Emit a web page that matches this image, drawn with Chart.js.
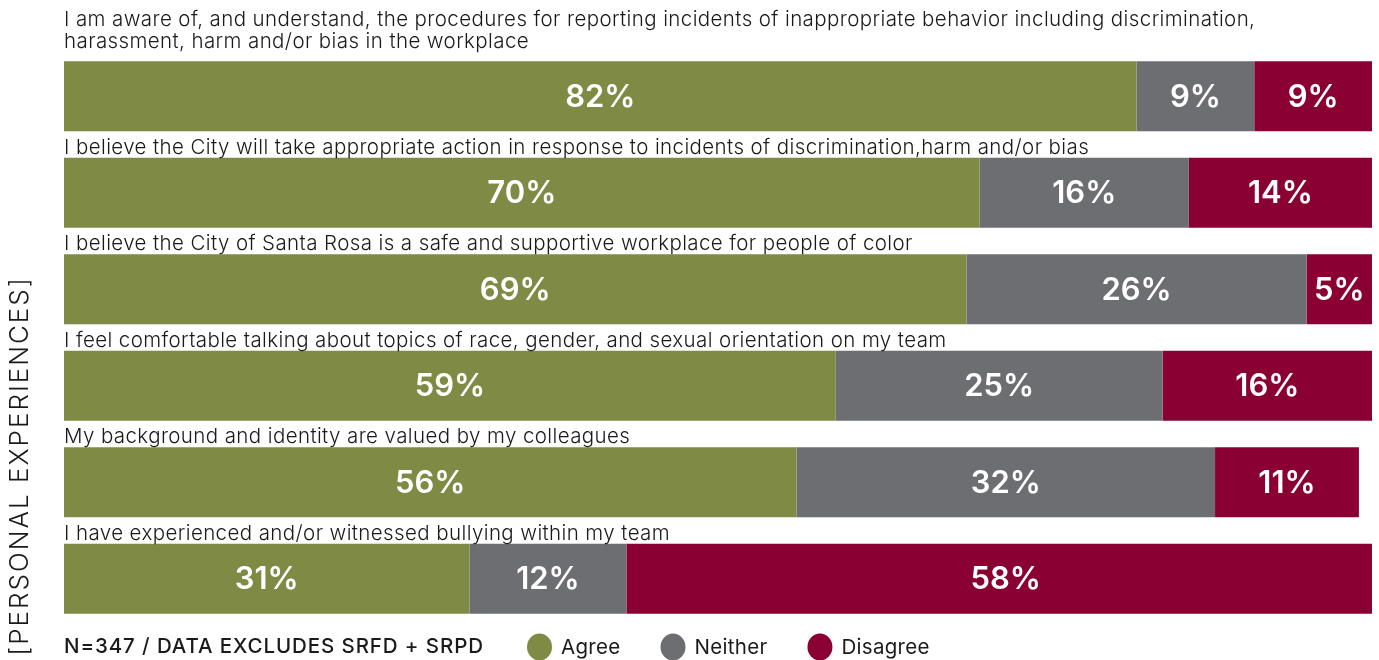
<!DOCTYPE html>
<html>
<head>
<meta charset="utf-8">
<script src="https://cdn.jsdelivr.net/npm/chart.js@4.4.1/dist/chart.umd.min.js"></script>
<style>
  html, body { margin: 0; padding: 0; background: #fff; }
</style>
</head>
<body>
<canvas id="barChart" width="1379" height="660"></canvas>
<script>
// survey statements, one per bar (first one wraps onto two lines)
const questions = [
    ['I am aware of, and understand, the procedures for reporting incidents of inappropriate behavior including discrimination,',
     'harassment, harm and/or bias in the workplace'],
    ['I believe the City will take appropriate action in response to incidents of discrimination,harm and/or bias'],
    ['I believe the City of Santa Rosa is a safe and supportive workplace for people of color'],
    ['I feel comfortable talking about topics of race, gender, and sexual orientation on my team'],
    ['My background and identity are valued by my colleagues'],
    ['I have experienced and/or witnessed bullying within my team']
];
const agree    = [82, 70, 69, 59, 56, 31];
const neither  = [9, 16, 26, 25, 32, 12];
const disagree = [9, 14, 5, 16, 11, 58];
const seriesNames = ['Agree', 'Neither', 'Disagree'];
const colors = ['#7f8a45', '#6d6e72', '#8b0033'];
const sideTitle = '[PERSONAL EXPERIENCES]';
const footNote = 'N=347 / DATA EXCLUDES SRFD + SRPD';

const textFont = 'Inter, "Open Sans", sans-serif';

// white % labels in the middle of each segment
const valueLabels = {
    id: 'valueLabels',
    afterDatasetsDraw(chart) {
        const ctx = chart.ctx;
        ctx.save();
        ctx.fillStyle = '#fff';
        ctx.font = '600 31px ' + textFont;
        ctx.textAlign = 'center';
        ctx.textBaseline = 'middle';
        chart.data.datasets.forEach((ds, d) => {
            chart.getDatasetMeta(d).data.forEach((bar, i) => {
                const c = bar.getCenterPoint();
                ctx.fillText(ds.data[i] + '%', c.x, c.y + 1);
            });
        });
        ctx.restore();
    }
};

// statement text above each bar, side title, footnote and legend
const decorations = {
    id: 'decorations',
    afterDraw(chart) {
        const ctx = chart.ctx;
        const area = chart.chartArea;
        const bars = chart.getDatasetMeta(0).data;
        ctx.save();
        ctx.fillStyle = '#1a1a1a';
        ctx.font = '300 20.5px ' + textFont;
        ctx.letterSpacing = '0.4px';
        ctx.textAlign = 'left';
        ctx.textBaseline = 'alphabetic';
        chart.data.labels.forEach((lines, i) => {
            const top = bars[i].y - bars[i].height / 2;
            let base = top - 4 - (lines.length - 1) * 9;
            for (let k = lines.length - 1; k >= 0; k--) {
                ctx.fillText(lines[k], area.left, base);
                base -= 22;
            }
        });

        // rotated section title on the left
        ctx.save();
        ctx.translate(20, 466);
        ctx.rotate(-Math.PI / 2);
        ctx.font = '300 26px ' + textFont;
        ctx.letterSpacing = '2px';
        ctx.textAlign = 'center';
        ctx.textBaseline = 'middle';
        ctx.fillText(sideTitle, 0, 0);
        ctx.restore();

        // footnote
        const rowY = 647;
        ctx.font = '500 20.5px ' + textFont;
        ctx.letterSpacing = '0.9px';
        ctx.textBaseline = 'middle';
        ctx.fillText(footNote, area.left, rowY);

        // legend
        ctx.font = '400 20.5px ' + textFont;
        ctx.letterSpacing = '0.3px';
        let x = 527;
        chart.data.datasets.forEach(ds => {
            ctx.fillStyle = ds.backgroundColor;
            ctx.beginPath();
            ctx.ellipse(x + 12.5, rowY, 12.5, 13.5, 0, 0, Math.PI * 2);
            ctx.fill();
            ctx.fillStyle = '#1a1a1a';
            ctx.fillText(ds.label, x + 34, rowY + 1);
            x += 34 + ctx.measureText(ds.label).width + 40;
        });
        ctx.restore();
    }
};

new Chart(document.getElementById('barChart'), {
    type: 'bar',
    data: {
        labels: questions,
        datasets: [
            { label: seriesNames[0], data: agree, backgroundColor: colors[0] },
            { label: seriesNames[1], data: neither, backgroundColor: colors[1] },
            { label: seriesNames[2], data: disagree, backgroundColor: colors[2] }
        ].map(ds => Object.assign(ds, {
            borderWidth: 0,
            barPercentage: 1,
            categoryPercentage: 0.725,
            clip: 0
        }))
    },
    options: {
        indexAxis: 'y',
        responsive: false,
        animation: false,
        devicePixelRatio: 1,
        layout: { padding: { left: 64, right: 7, top: 48, bottom: 33 } },
        scales: {
            x: { stacked: true, min: 0, max: 100, display: false },
            y: { stacked: true, display: false }
        },
        plugins: {
            legend: { display: false },
            tooltip: { enabled: false },
            title: { display: false }
        }
    },
    plugins: [valueLabels, decorations]
});
</script>
</body>
</html>
